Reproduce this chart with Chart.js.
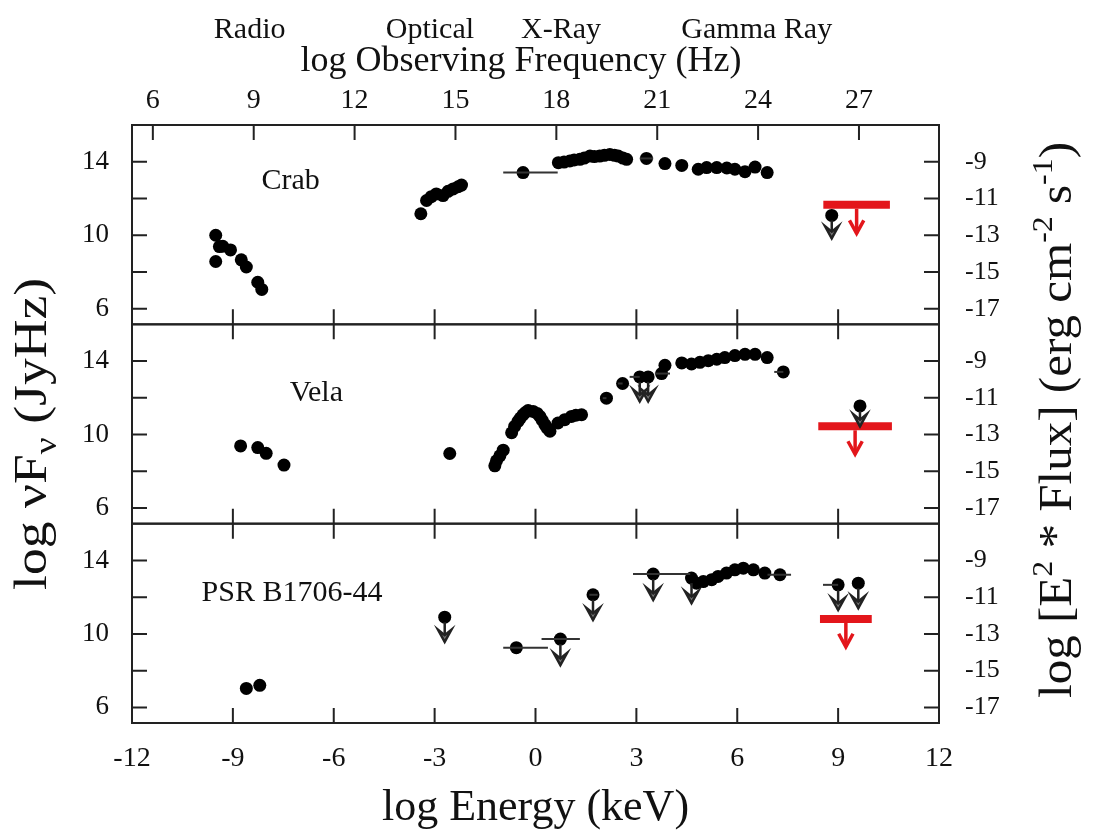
<!DOCTYPE html>
<html>
<head>
<meta charset="utf-8">
<script src="https://cdn.jsdelivr.net/npm/chart.js@4/dist/chart.umd.min.js"></script>
<style>
  html, body { margin: 0; padding: 0; background: #fff; }
</style>
</head>
<body>
<canvas id="sed" width="1095" height="832" style="width:1095px;height:832px"></canvas>
<script>
// log Energy (keV) and log vFv (Jy Hz)
const crabE = [-9.51, -9.51, -9.4, -9.3, -9.07, -8.75, -8.6, -8.26, -8.14,
  -3.41, -3.24, -3.1, -2.95, -2.75, -2.6, -2.45, -2.3, -2.2,
  -0.37, 0.68, 0.85, 1.02, 1.15, 1.32, 1.45, 1.62, 1.75, 1.91, 2.05, 2.21, 2.35, 2.46, 2.6, 2.71,
  3.3, 3.85, 4.35, 4.84, 5.09, 5.39, 5.69, 5.93, 6.23, 6.53, 6.89];
const crabF = [10.0, 8.57, 9.38, 9.4, 9.2, 8.66, 8.27, 7.44, 7.05,
  11.17, 11.89, 12.1, 12.25, 12.16, 12.39, 12.52, 12.64, 12.73,
  13.41, 13.95, 13.98, 14.04, 14.1, 14.13, 14.2, 14.31, 14.28, 14.31, 14.35, 14.4, 14.35, 14.31, 14.2, 14.13,
  14.18, 13.9, 13.8, 13.59, 13.68, 13.68, 13.66, 13.59, 13.46, 13.71, 13.41];
const crabLimE = [8.81];
const crabLimF = [11.08];
const crabLimTo = [9.83];
const crabBars = [[-0.96, 0.66, 13.41], [3.1, 3.5, 14.18]];
const crabRed = [8.56, 10.54, 11.66, 10.1];

const velaE = [-8.77, -8.26, -8.01, -7.48, -2.55,
  -1.21, -1.16, -1.06, -0.96, -0.71, -0.62, -0.52, -0.45, -0.37, -0.3, -0.22, -0.07, 0.05, 0.13, 0.2, 0.28, 0.35, 0.43,
  0.67, 0.87, 1.07, 1.2, 1.37, 2.11, 2.59, 3.75, 3.85, 4.35, 4.64, 4.89, 5.14, 5.39, 5.63, 5.93, 6.23, 6.53, 6.89, 7.37];
const velaF = [9.38, 9.29, 8.98, 8.34, 8.97,
  8.3, 8.57, 8.84, 9.15, 10.1, 10.45, 10.72, 10.9, 11.08, 11.2, 11.31, 11.26, 11.15, 10.99, 10.78, 10.54, 10.35, 10.18,
  10.63, 10.81, 10.99, 11.05, 11.08, 11.98, 12.78, 13.32, 13.77, 13.9, 13.84, 13.93, 14.02, 14.1, 14.19, 14.3, 14.37, 14.37, 14.19, 13.41];
const velaLimE = [3.1, 3.35, 9.65];
const velaLimF = [13.14, 13.14, 11.56];
const velaLimTo = [11.8, 11.8, 10.45];
const velaBars = [[2.8, 3.1, 13.14], [3.55, 4.0, 13.32], [2.45, 2.59, 12.78], [2.0, 2.11, 11.98], [7.1, 7.37, 13.41]];
const velaRed = [8.41, 10.6, 10.45, 8.93];

const psrE = [-8.6, -8.2, -0.57, 4.79, 4.99, 5.24, 5.43, 5.68, 5.93, 6.18, 6.48, 6.82, 7.27];
const psrF = [7.03, 7.2, 9.25, 12.76, 12.85, 12.95, 13.13, 13.31, 13.49, 13.58, 13.49, 13.31, 13.22];
const psrLimE = [-2.7, 0.74, 1.71, 3.5, 4.64, 9.0, 9.6];
const psrLimF = [10.91, 9.72, 12.13, 13.26, 13.04, 12.67, 12.76];
const psrLimTo = [9.57, 8.3, 10.76, 11.85, 11.67, 11.3, 11.4];
const psrBars = [[-0.96, 0.37, 9.25], [0.18, 1.32, 9.72], [1.6, 1.85, 12.13], [2.9, 4.6, 13.26], [6.9, 7.6, 13.22], [8.55, 9.0, 12.67]];
const psrRed = [8.46, 10.0, 10.81, 9.3];

const panelNames = ['Crab', 'Vela', 'PSR B1706-44'];
const panelNamePos = [[-8.15, 12.52], [-7.31, 11.83], [-9.93, 11.79]];

const energyTicks = [-12, -9, -6, -3, 0, 3, 6, 9, 12];
const freqTicks = [6, 9, 12, 15, 18, 21, 24, 27];
const leftTicks = [6, 8, 10, 12, 14];
const rightTicks = [-17, -15, -13, -11, -9];
const bands = [['Radio', -8.5], ['Optical', -3.14], ['X-Ray', 0.76], ['Gamma Ray', 6.58]];

const FREQ_OFFSET = 17.38;   // log Hz - log keV
const FLUX_OFFSET = 23;      // log Jy Hz - log erg cm-2 s-1
const Y_MIN = 5.15, Y_MAX = 16.0;

const SERIF = "'Liberation Serif', 'Times New Roman', serif";
const RED = '#e3161b';
const INK = '#111';

const leftIds = ['yCrab', 'yVela', 'yPsr'];
const rightIds = ['y2Crab', 'y2Vela', 'y2Psr'];
const panels = [
  { E: crabE, F: crabF, limE: crabLimE, limF: crabLimF, limTo: crabLimTo, bars: crabBars, red: crabRed },
  { E: velaE, F: velaF, limE: velaLimE, limF: velaLimF, limTo: velaLimTo, bars: velaBars, red: velaRed },
  { E: psrE, F: psrF, limE: psrLimE, limF: psrLimF, limTo: psrLimTo, bars: psrBars, red: psrRed }
];

const pts = (xs, ys) => xs.map((x, i) => ({ x: x, y: ys[i] }));

const datasets = [];
panels.forEach((p, i) => {
  datasets.push({ data: pts(p.E, p.F), yAxisID: leftIds[i], pointRadius: 6.5, backgroundColor: '#000', borderWidth: 0 });
  datasets.push({ data: pts(p.limE, p.limF), yAxisID: leftIds[i], pointRadius: 6.5, backgroundColor: '#000', borderWidth: 0 });
  datasets.push({
    data: [{ x: p.red[0], y: p.red[2] }, { x: p.red[1], y: p.red[2] }],
    yAxisID: leftIds[i], showLine: true, pointRadius: 0, borderColor: RED, borderWidth: 8, borderCapStyle: 'butt'
  });
});

const scales = {
  x: {
    type: 'linear', position: 'bottom', min: -12, max: 12,
    afterBuildTicks: s => { s.ticks = energyTicks.map(v => ({ value: v })); },
    afterFit: s => { s.height = 109; },
    grid: { display: false }, border: { display: false },
    ticks: { color: INK, padding: 11, font: { family: SERIF, size: 28 } },
    title: { display: true, text: 'log Energy (keV)', color: INK, padding: { bottom: 2 }, font: { family: SERIF, size: 44, lineHeight: 1 } }
  },
  xTop: {
    type: 'linear', position: 'top', min: -12 + FREQ_OFFSET, max: 12 + FREQ_OFFSET,
    afterBuildTicks: s => { s.ticks = freqTicks.map(v => ({ value: v })); },
    afterFit: s => { s.height = 125; },
    grid: { display: false }, border: { display: false },
    ticks: { color: INK, padding: 0, font: { family: SERIF, size: 28 } }
  }
};
// left stacks are laid out last-first, so add them bottom panel first
leftIds.slice().reverse().forEach(id => {
  scales[id] = {
    type: 'linear', axis: 'y', position: 'left', stack: 'left', stackWeight: 1, min: Y_MIN, max: Y_MAX,
    afterBuildTicks: s => { s.ticks = leftTicks.map(v => ({ value: v })); },
    afterFit: s => { s.width = 132; },
    grid: { display: false }, border: { display: false },
    ticks: { color: INK, padding: 15, font: { family: SERIF, size: 27 } }
  };
});
rightIds.forEach(id => {
  scales[id] = {
    type: 'linear', axis: 'y', position: 'right', stack: 'right', stackWeight: 1,
    min: Y_MIN - FLUX_OFFSET, max: Y_MAX - FLUX_OFFSET,
    afterBuildTicks: s => { s.ticks = rightTicks.map(v => ({ value: v })); },
    afterFit: s => { s.width = 156; },
    grid: { display: false }, border: { display: false },
    ticks: { color: INK, padding: 18, font: { family: SERIF, size: 26 } }
  };
});

function arrowDown(ctx, x, y0, y1, head, lw, color, fill) {
  ctx.strokeStyle = color;
  ctx.lineWidth = lw;
  ctx.beginPath();
  ctx.moveTo(x, y0);
  ctx.lineTo(x, y1);
  ctx.stroke();
  ctx.beginPath();
  ctx.moveTo(x - head * 0.55, y1 - head);
  ctx.lineTo(x, y1);
  ctx.lineTo(x + head * 0.55, y1 - head);
  if (fill) {
    ctx.lineTo(x, y1 - head * 0.55);
    ctx.closePath();
    ctx.fillStyle = fill;
    ctx.fill();
  }
  ctx.stroke();
}

// draw a run of [text, sizeFactor, shift] pieces centred on 0, stretched to len
function drawPieces(ctx, pieces, size, len) {
  let total = 0;
  pieces.forEach(p => { ctx.font = (size * p[1]) + 'px ' + SERIF; total += ctx.measureText(p[0]).width; });
  ctx.scale(len / total, 1);
  let x = -total / 2;
  pieces.forEach(p => {
    ctx.font = (size * p[1]) + 'px ' + SERIF;
    ctx.fillText(p[0], x, p[2] * size);
    x += ctx.measureText(p[0]).width;
  });
}

const markup = {
  id: 'markup',
  afterDatasetsDraw(chart) {
    const ctx = chart.ctx;
    const xs = chart.scales.x;
    const area = chart.chartArea;
    ctx.save();
    ctx.lineCap = 'butt';

    panels.forEach((p, i) => {
      const ys = chart.scales[leftIds[i]];
      // horizontal error bars
      ctx.strokeStyle = '#333';
      ctx.lineWidth = 2;
      p.bars.forEach(b => {
        const py = ys.getPixelForValue(b[2]);
        ctx.beginPath();
        ctx.moveTo(xs.getPixelForValue(b[0]), py);
        ctx.lineTo(xs.getPixelForValue(b[1]), py);
        ctx.stroke();
      });
      // upper limit arrows
      p.limE.forEach((e, k) => {
        const px = xs.getPixelForValue(e);
        arrowDown(ctx, px, ys.getPixelForValue(p.limF[k]) + 5, ys.getPixelForValue(p.limTo[k]), 12, 2.5, '#222', '#777');
      });
      // red limit arrow
      const rx = xs.getPixelForValue((p.red[0] + p.red[1]) / 2);
      arrowDown(ctx, rx, ys.getPixelForValue(p.red[2]) + 4, ys.getPixelForValue(p.red[3]), 13, 3.5, RED, null);

      // frame and inward ticks
      const ry = chart.scales[rightIds[i]];
      ctx.strokeStyle = '#222';
      ctx.lineWidth = 2;
      ctx.strokeRect(area.left, ys.top, area.right - area.left, ys.bottom - ys.top);
      const T = 15;
      ctx.beginPath();
      energyTicks.slice(1, -1).forEach(v => {
        const px = xs.getPixelForValue(v);
        if (i > 0) { ctx.moveTo(px, ys.top); ctx.lineTo(px, ys.top + T); }
        ctx.moveTo(px, ys.bottom); ctx.lineTo(px, ys.bottom - T);
      });
      if (i === 0) {
        const xt = chart.scales.xTop;
        freqTicks.forEach(v => {
          const px = xt.getPixelForValue(v);
          ctx.moveTo(px, ys.top); ctx.lineTo(px, ys.top + T);
        });
      }
      leftTicks.forEach(v => {
        const py = ys.getPixelForValue(v);
        ctx.moveTo(area.left, py); ctx.lineTo(area.left + T, py);
      });
      rightTicks.forEach(v => {
        const py = ry.getPixelForValue(v);
        ctx.moveTo(area.right, py); ctx.lineTo(area.right - T, py);
      });
      ctx.stroke();

      // panel name
      ctx.fillStyle = INK;
      ctx.font = '30px ' + SERIF;
      ctx.textAlign = 'left';
      ctx.textBaseline = 'alphabetic';
      ctx.fillText(panelNames[i], xs.getPixelForValue(panelNamePos[i][0]), ys.getPixelForValue(panelNamePos[i][1]));
    });

    // band names and the frequency axis title
    ctx.fillStyle = INK;
    ctx.textAlign = 'center';
    ctx.textBaseline = 'middle';
    ctx.font = '30px ' + SERIF;
    bands.forEach(b => ctx.fillText(b[0], xs.getPixelForValue(b[1]), 30));
    ctx.font = '36px ' + SERIF;
    ctx.fillText('log Observing Frequency (Hz)', 521, 62);

    // rotated axis titles
    ctx.textAlign = 'left';
    ctx.textBaseline = 'alphabetic';
    ctx.save();
    ctx.translate(46, 434);
    ctx.rotate(-Math.PI / 2);
    drawPieces(ctx, [['log \u03BDF', 1, 0], ['\u03BD', 0.7, 0.22], [' (JyHz)', 1, 0]], 46, 312);
    ctx.restore();
    ctx.save();
    ctx.translate(1071, 420);
    ctx.rotate(-Math.PI / 2);
    drawPieces(ctx, [['log [E', 1, 0], ['2', 0.65, -0.42], [' * Flux] (erg cm', 1, 0], ['-2', 0.65, -0.42],
      [' s', 1, 0], ['-1', 0.65, -0.42], [')', 1, 0]], 46, 556);
    ctx.restore();
    ctx.restore();
  }
};

new Chart(document.getElementById('sed'), {
  type: 'scatter',
  data: { datasets: datasets },
  options: {
    responsive: false,
    devicePixelRatio: 1,
    animation: false,
    layout: { padding: 0 },
    plugins: { legend: { display: false }, tooltip: { enabled: false } },
    scales: scales
  },
  plugins: [markup]
});
</script>
</body>
</html>
